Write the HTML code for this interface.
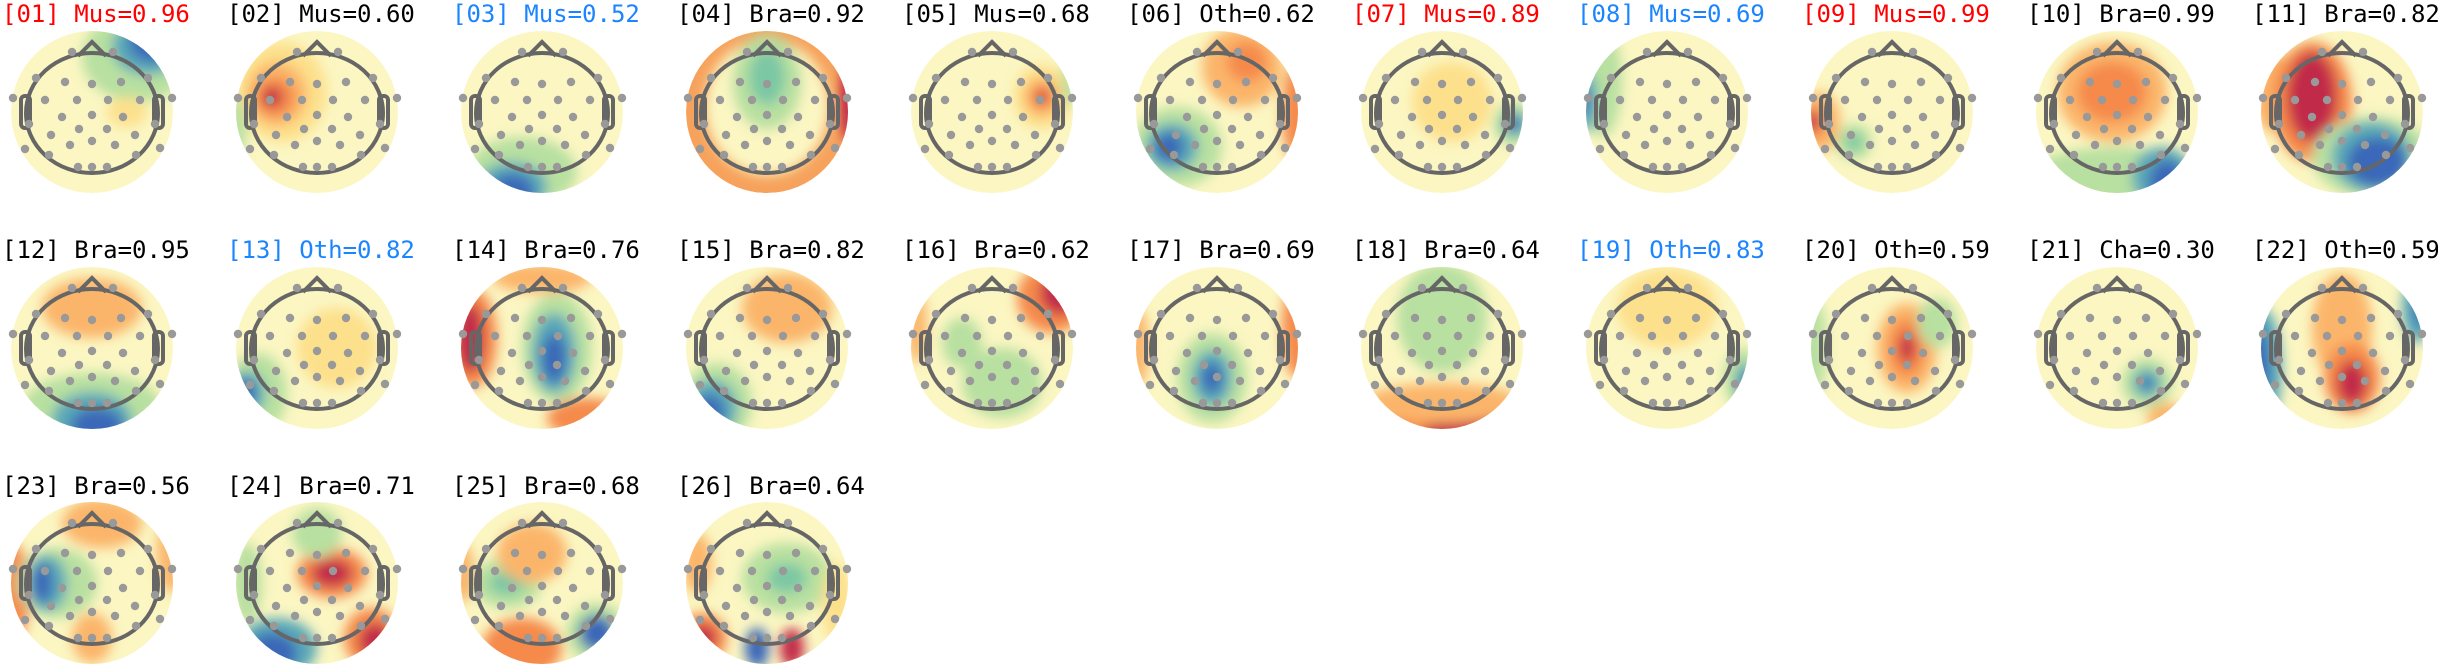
<!DOCTYPE html>
<html><head><meta charset="utf-8"><style>
html,body{margin:0;padding:0;background:#fff;}
svg{display:block;}
text{font-family:"DejaVu Sans Mono","Liberation Mono",monospace;font-size:24px;}
</style></head><body>
<svg id="s" width="2438" height="667" viewBox="0 0 2438 667" xmlns="http://www.w3.org/2000/svg">
<defs>
<filter id="bl" x="-100%" y="-100%" width="300%" height="300%"><feGaussianBlur stdDeviation="6"/></filter>
<clipPath id="cp"><circle cx="0" cy="0" r="81"/></clipPath>
</defs>
<g id="maps"></g>
<g id="titles">
<text x="2" y="22" fill="#ff0000">[01] Mus=0.96</text>
<text x="227" y="22">[02] Mus=0.60</text>
<text x="452" y="22" fill="#1a85ff">[03] Mus=0.52</text>
<text x="677" y="22">[04] Bra=0.92</text>
<text x="902" y="22">[05] Mus=0.68</text>
<text x="1127" y="22">[06] Oth=0.62</text>
<text x="1352" y="22" fill="#ff0000">[07] Mus=0.89</text>
<text x="1577" y="22" fill="#1a85ff">[08] Mus=0.69</text>
<text x="1802" y="22" fill="#ff0000">[09] Mus=0.99</text>
<text x="2027" y="22">[10] Bra=0.99</text>
<text x="2252" y="22">[11] Bra=0.82</text>
<text x="2" y="258">[12] Bra=0.95</text>
<text x="227" y="258" fill="#1a85ff">[13] Oth=0.82</text>
<text x="452" y="258">[14] Bra=0.76</text>
<text x="677" y="258">[15] Bra=0.82</text>
<text x="902" y="258">[16] Bra=0.62</text>
<text x="1127" y="258">[17] Bra=0.69</text>
<text x="1352" y="258">[18] Bra=0.64</text>
<text x="1577" y="258" fill="#1a85ff">[19] Oth=0.83</text>
<text x="1802" y="258">[20] Oth=0.59</text>
<text x="2027" y="258">[21] Cha=0.30</text>
<text x="2252" y="258">[22] Oth=0.59</text>
<text x="2" y="494">[23] Bra=0.56</text>
<text x="227" y="494">[24] Bra=0.71</text>
<text x="452" y="494">[25] Bra=0.68</text>
<text x="677" y="494">[26] Bra=0.64</text>
</g>
</svg>
<script>
var R="#c2294a",O="#f58a4b",o="#fbb56a",Y="#fde08b",G="#b8e0a0",g="#7cc7a4",B="#3a68b8",b="#5aa8b8";
var base="#fbf6c2";
var M=[
[[45,-55,55,45,G],[55,-65,35,28,b],[62,-70,25,20,B],[35,0,20,15,Y]],
[[-35,-20,45,50,Y],[-40,-18,30,32,o],[-42,-15,20,20,O],[-45,-15,10,10,R],[-80,15,10,30,G]],
[[-20,60,55,35,G],[-30,75,35,25,b],[-30,80,22,18,B]],
"ring",
[[50,-15,28,32,Y],[50,-15,18,20,o],[50,-15,11,12,O],[50,-15,6,6,R],[78,-30,8,25,G]],
[[25,-45,40,40,o],[30,-50,20,20,O],[80,0,15,50,O],[-40,35,45,40,G],[-45,35,26,24,b],[-48,35,14,14,B]],
[[10,-10,40,40,Y],[72,12,20,22,G],[72,12,12,13,b],[74,12,6,7,B]],
[[-65,-30,20,55,G],[-80,-10,10,30,b],[-82,-10,5,15,B]],
[[-72,10,20,30,o],[-78,10,12,16,O],[-80,10,7,10,R],[-38,30,18,18,G],[-38,30,9,9,g]],
[[-5,-20,55,50,o],[-5,-20,35,30,O],[0,65,90,30,G],[45,65,30,30,b],[50,70,18,22,B]],
[[-70,-20,20,40,o],[-30,-10,40,60,O],[-30,-15,25,45,R],[30,45,60,40,G],[30,45,40,35,b],[35,50,30,25,B]],
[[0,-40,50,30,o],[0,60,70,35,G],[0,72,40,28,b],[5,78,26,18,B]],
[[-60,45,30,40,G],[-70,45,18,22,b],[-72,45,10,14,B],[20,0,40,40,Y]],
[[-70,-10,25,50,O],[-72,-10,14,35,R],[15,0,35,55,G],[12,5,22,40,b],[12,10,12,25,B],[45,70,40,20,O],[0,-70,50,15,o]],
[[20,-40,45,35,o],[-50,55,35,40,G],[-55,60,25,28,b],[-58,65,15,18,B]],
[[60,-50,35,35,O],[68,-55,20,22,R],[10,35,40,35,G],[-30,-5,20,25,G],[-75,-20,10,35,o]],
[[-5,30,35,45,G],[-5,30,20,28,b],[-5,30,10,15,B],[80,-20,15,50,O],[-80,0,12,40,o]],
[[0,-30,45,55,G],[20,75,80,28,O],[30,85,50,15,R],[0,55,80,20,o]],
[[75,30,18,30,G],[78,35,10,20,b],[80,35,6,10,B],[0,-40,50,40,Y]],
[[15,0,30,45,o],[15,0,18,30,O],[15,0,8,15,R],[45,-25,20,25,G],[-80,0,15,50,G]],
[[30,35,25,25,G],[30,35,14,14,b],[30,35,6,6,B],[50,70,20,15,o]],
[[-80,20,20,60,b],[-85,20,12,45,B],[75,-40,15,35,b],[80,-45,8,25,B],[0,-20,30,55,o],[10,30,28,35,O],[10,35,15,22,R]],
[[-80,10,18,50,O],[10,-60,40,25,o],[80,-30,15,40,o],[-35,0,40,35,G],[-45,0,20,28,b],[-50,0,10,20,B],[0,55,20,25,o]],
[[15,-10,35,25,O],[15,-10,20,14,R],[-40,65,40,30,b],[-45,70,25,20,B],[55,55,28,30,O],[58,58,16,18,R],[0,-50,25,25,G],[-70,0,15,40,G]],
[[-35,0,35,25,G],[-35,0,18,12,g],[55,50,30,30,G],[55,50,18,18,B],[-20,65,40,30,O],[-10,-30,35,30,o],[-80,-10,12,30,o]],
[[20,-5,45,35,G],[20,-5,20,15,g],[-65,55,25,25,O],[-65,55,14,14,R],[-10,65,12,20,B],[25,65,12,20,R],[-70,-20,15,30,o],[70,20,15,40,Y]]
];
var E=[[-20,-60],[21,-60],[-56,-34],[-27,-30],[0,-28],[29,-30],[56,-34],[-79,-14],[-47,-12],[-15,-12],[16,-12],[48,-12],[80,-14],[-30,5],[0,3],[31,5],[-63,12],[63,12],[-13,17],[15,17],[-41,23],[43,23],[-22,33],[0,29],[23,33],[-67,37],[68,36],[-43,43],[44,43],[-14,55],[0,55],[15,55]];
var s="";
for(var i=0;i<26;i++){
 var row=Math.floor(i/11),col=i%11;
 var cx=92+225*col, cy=112+236*row - (row==2?1:0);
 s+='<g transform="translate('+cx+','+cy+')"><g clip-path="url(#cp)">';
 var m=M[i];
 if(m==="ring"){
  s+='<circle r="81" fill="#f6a25c"/><g filter="url(#bl)"><ellipse cx="0" cy="-5" rx="62" ry="68" fill="'+base+'"/><ellipse cx="0" cy="-30" rx="35" ry="48" fill="'+G+'"/><ellipse cx="0" cy="-35" rx="18" ry="28" fill="'+g+'"/><ellipse cx="82" cy="-10" rx="10" ry="40" fill="'+R+'"/></g>';
 } else {
  s+='<circle r="81" fill="'+base+'"/><g filter="url(#bl)">';
  for(var j=0;j<m.length;j++){var q=m[j];s+='<ellipse cx="'+q[0]+'" cy="'+q[1]+'" rx="'+q[2]+'" ry="'+q[3]+'" fill="'+q[4]+'"/>';}
  s+='</g>';
 }
 s+='</g>';
 s+='<g fill="none" stroke="#666" stroke-width="4"><ellipse cx="0" cy="1" rx="66" ry="60"/><path d="M-14,-56 L0,-70 L14,-56"/><rect x="-71" y="-16" width="9" height="32" rx="4"/><rect x="62" y="-16" width="9" height="32" rx="4"/></g>';
 s+='<g fill="#999">';
 for(var k=0;k<E.length;k++)s+='<circle cx="'+E[k][0]+'" cy="'+E[k][1]+'" r="4.2"/>';
 s+='</g></g>';
}
document.getElementById("maps").innerHTML=s;
</script>
</body></html>
